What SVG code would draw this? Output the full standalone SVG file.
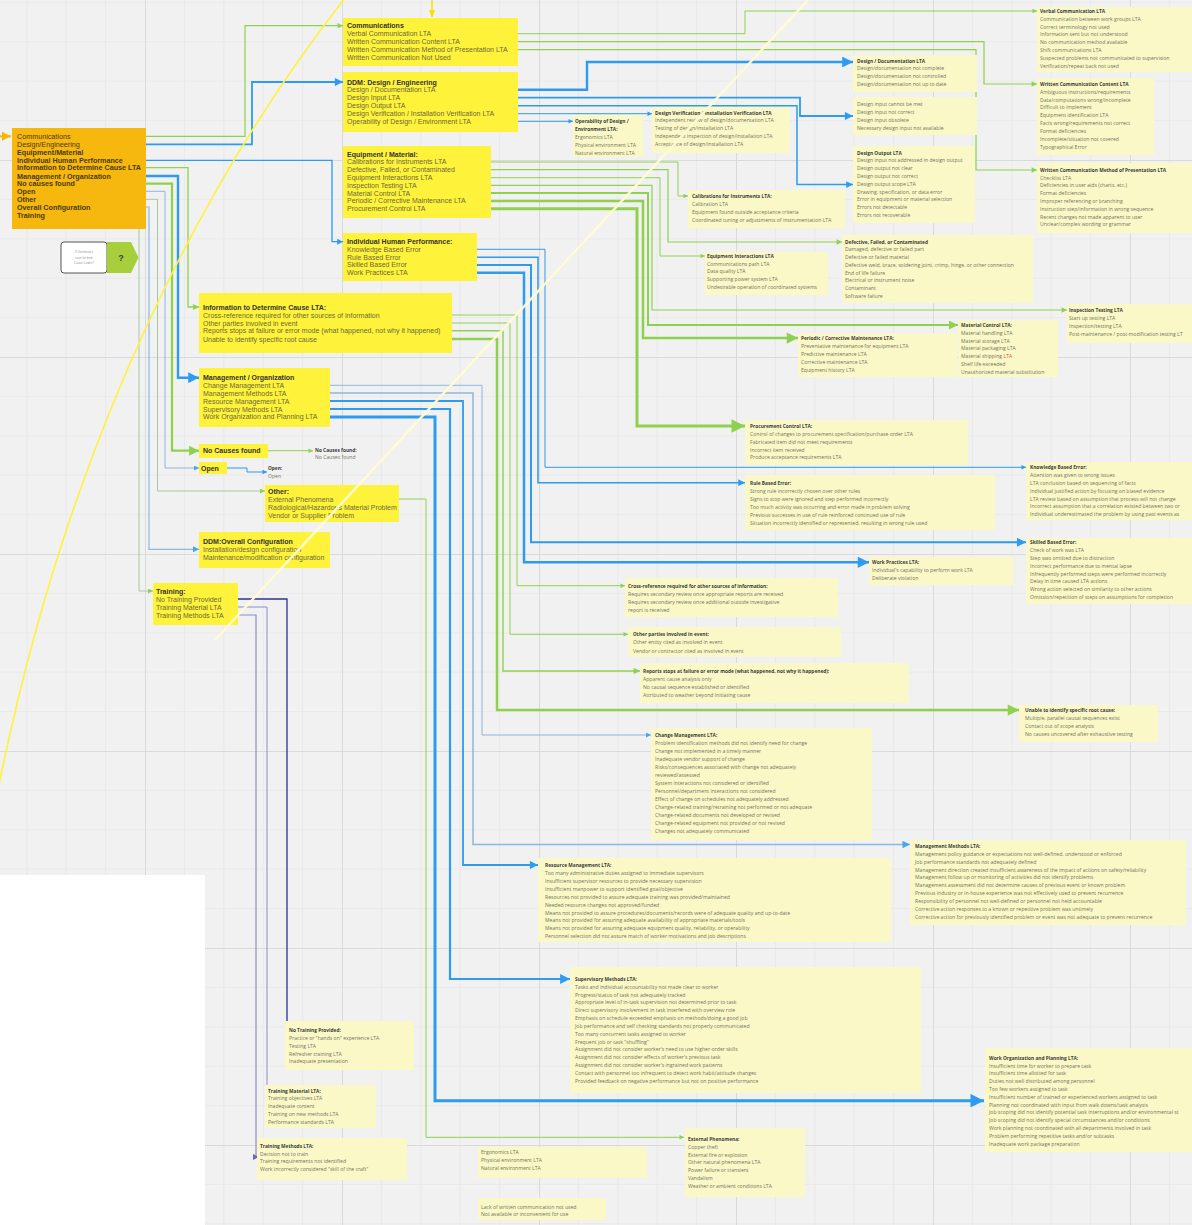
<svg xmlns="http://www.w3.org/2000/svg" width="1192" height="1225" viewBox="0 0 1192 1225">
<defs>
<style>
.b{fill:#fff23a}
.o{fill:#f6b80f}
.p{fill:#faf8c6}
.t{font-family:"Liberation Sans",Arial,sans-serif;font-size:7px;fill:#6a6a3a}
.tb{font-weight:bold;fill:#333}
.mt{font-family:"Liberation Sans",Arial,sans-serif;font-size:7.2px;fill:#4a3a10}
.mb{font-weight:bold}
.s{font-family:"Open Sans","Liberation Sans",sans-serif;font-size:5.1px;fill:#747464}
.sb{font-weight:bold;font-size:4.8px;fill:#3c3c3c}
.c path{fill:none;stroke-linejoin:miter}
.g{stroke:#8fd14f}
.bl{stroke:#2d9bf0}
.lb{stroke:#8ab8e0}
.gr{stroke:#a8c8a0}
.n{stroke:#2e3192}
.n2{stroke:#8c8ccc}
</style>
<pattern id="grid" x="145" y="160" width="197" height="197" patternUnits="userSpaceOnUse">
<rect width="197" height="197" fill="#f1f1f1"/>
<path d="M39.4 0V197M78.8 0V197M118.2 0V197M157.6 0V197M0 39.4H197M0 78.8H197M0 118.2H197M0 157.6H197" stroke="#e7e7e7" stroke-width="0.8" fill="none"/>
<path d="M0.5 0V197M0 0.5H197" stroke="#dadada" stroke-width="1" fill="none"/>
</pattern>
<marker id="mG" viewBox="0 0 10 10" refX="10" refY="5" markerWidth="5.5" markerHeight="4.5" orient="auto" markerUnits="strokeWidth"><path d="M0 0L10 5L0 10z" fill="#8fd14f"/></marker>
<marker id="mB" viewBox="0 0 10 10" refX="10" refY="5" markerWidth="5.5" markerHeight="4.5" orient="auto" markerUnits="strokeWidth"><path d="M0 0L10 5L0 10z" fill="#2d9bf0"/></marker>
<marker id="mLB" viewBox="0 0 10 10" refX="10" refY="5" markerWidth="6" markerHeight="5" orient="auto" markerUnits="strokeWidth"><path d="M0 0L10 5L0 10z" fill="#4aa6ea"/></marker>
<marker id="mGR" viewBox="0 0 10 10" refX="10" refY="5" markerWidth="6" markerHeight="5" orient="auto" markerUnits="strokeWidth"><path d="M0 0L10 5L0 10z" fill="#8fd14f"/></marker>
<marker id="mN" viewBox="0 0 10 10" refX="10" refY="5" markerWidth="5.5" markerHeight="4.5" orient="auto" markerUnits="strokeWidth"><path d="M0 0L10 5L0 10z" fill="#2e3192"/></marker>
<marker id="mN2" viewBox="0 0 10 10" refX="10" refY="5" markerWidth="6" markerHeight="5" orient="auto" markerUnits="strokeWidth"><path d="M0 0L10 5L0 10z" fill="#6a6ab8"/></marker>
<marker id="mY" viewBox="0 0 10 10" refX="10" refY="5" markerWidth="5" markerHeight="4.5" orient="auto" markerUnits="strokeWidth"><path d="M0 0L10 5L0 10z" fill="#f2e200"/></marker>
<marker id="mO" viewBox="0 0 10 10" refX="10" refY="5" markerWidth="5" markerHeight="4.5" orient="auto" markerUnits="strokeWidth"><path d="M0 0L10 5L0 10z" fill="#f5b800"/></marker>
</defs>

<rect width="1192" height="1225" fill="url(#grid)"/>
<rect x="0" y="875" width="205" height="350" fill="#ffffff"/>

<g id="connectors" class="c">
<path class="g" stroke-width="1.2" marker-end="url(#mG)" d="M76 136.3H245V25.7H343"/>
<path class="bl" stroke-width="1.8" marker-end="url(#mB)" d="M86 144.3H252V82H343"/>
<path class="bl" stroke-width="1.3" marker-end="url(#mB)" d="M122 160.3H332V241.7H343"/>
<path class="g" stroke-width="1.3" marker-end="url(#mG)" d="M141 167.7H188V307H199"/>
<path class="bl" stroke-width="2.4" marker-end="url(#mB)" d="M111 176H178V377.7H199"/>
<path class="g" stroke-width="2.2" marker-end="url(#mG)" d="M76 183.7H172V450.7H199"/>
<path class="lb" stroke-width="1" marker-end="url(#mLB)" d="M38 191.3H165V468H199"/>
<path class="gr" stroke-width="1" marker-end="url(#mGR)" d="M38 199.3H157.5V491H265"/>
<path class="lb" stroke-width="1.2" marker-end="url(#mLB)" d="M90 207H149V549.3H199"/>
<path class="gr" stroke-width="1" marker-end="url(#mGR)" d="M139 229V591H153"/>

<path class="g" stroke-width="1" marker-end="url(#mG)" d="M432 33.7H745V11H1037"/>
<path class="g" stroke-width="1.2" marker-end="url(#mG)" d="M460 41.7H984V84H1037"/>
<path class="g" stroke-width="1.2" marker-end="url(#mG)" d="M509 49.7H976V170H1037"/>

<path class="bl" stroke-width="2.4" marker-end="url(#mB)" d="M437 89.7H587V62H853"/>
<path class="bl" stroke-width="1.8" marker-end="url(#mB)" d="M403 97.7H800V116H853"/>
<path class="bl" stroke-width="1.5" marker-end="url(#mB)" d="M408 105.7H797V184.5H853"/>
<path class="bl" stroke-width="1" marker-end="url(#mB)" d="M498 113.7H652"/>
<path class="bl" stroke-width="1" marker-end="url(#mB)" d="M478 121.3H573"/>

<path class="g" stroke-width="1" marker-end="url(#mG)" d="M449 162H678V196H688"/>
<path class="g" stroke-width="1.2" marker-end="url(#mG)" d="M458 169.7H668V242H842"/>
<path class="g" stroke-width="1" marker-end="url(#mG)" d="M436 177.7H660V256H705"/>
<path class="g" stroke-width="1.2" marker-end="url(#mG)" d="M423 185.3H652V310H1067"/>
<path class="g" stroke-width="2" marker-end="url(#mG)" d="M414 193H648V325H958"/>
<path class="g" stroke-width="2.5" marker-end="url(#mG)" d="M469 201H643V338H798"/>
<path class="g" stroke-width="3" marker-end="url(#mG)" d="M431 208.7H637V426H745"/>

<path class="bl" stroke-width="1" marker-end="url(#mB)" d="M423 249.3H545V467.3H1026"/>
<path class="bl" stroke-width="1.5" marker-end="url(#mB)" d="M401 257.3H538V482.7H745"/>
<path class="bl" stroke-width="2" marker-end="url(#mB)" d="M408 265H531V542.3H1026"/>
<path class="bl" stroke-width="2.5" marker-end="url(#mB)" d="M409 272.7H524V562.3H869"/>

<path class="g" stroke-width="1" marker-end="url(#mG)" d="M383 315H517V585.7H625"/>
<path class="g" stroke-width="1" marker-end="url(#mG)" d="M299 323H510V634.3H628"/>
<path class="g" stroke-width="1.4" marker-end="url(#mG)" d="M443 330.7H503V671H640"/>
<path class="g" stroke-width="2.5" marker-end="url(#mG)" d="M319 339H497V710H1019"/>

<path class="lb" stroke-width="1" marker-end="url(#mLB)" d="M288 385.3H482V735H651"/>
<path class="lb" stroke-width="1.5" marker-end="url(#mLB)" d="M288 393H473V844.5H910"/>
<path class="bl" stroke-width="1.8" marker-end="url(#mB)" d="M291 401H463V865H538"/>
<path class="bl" stroke-width="2.2" marker-end="url(#mB)" d="M285 409H450V979H570"/>
<path class="bl" stroke-width="3" marker-end="url(#mB)" d="M321 417H435V1100.7H984"/>

<path class="g" stroke-width="1" marker-end="url(#mG)" d="M337 499H426V1137.3H684"/>
<path class="g" stroke-width="1" marker-end="url(#mG)" d="M268 450.7H313"/>
<path class="bl" stroke-width="1" marker-end="url(#mB)" d="M227 468H247V472H267"/>

<path class="n" stroke-width="1.3" marker-end="url(#mN)" d="M225 599H287V1030H291"/>
<path class="n2" stroke-width="1" marker-end="url(#mN2)" d="M224 607H267V1099H271"/>
<path class="n2" stroke-width="1.2" marker-end="url(#mN2)" d="M228 615H256V1157H259"/>

<path stroke="#f2e200" stroke-width="1.5" marker-end="url(#mY)" d="M432 0V17"/>
<path stroke="#f5b800" stroke-width="2" marker-end="url(#mO)" d="M0 136.3H11"/>
</g>

<g id="n-main">
<rect class="o" x="12" y="128" width="134" height="101"/>
<text class="mt" x="17" y="138.8">Communications</text>
<text class="mt" x="17" y="146.8">Design/Engineering</text>
<text class="mt mb" x="17" y="154.8">Equipment/Material</text>
<text class="mt mb" x="17" y="162.8">Individual Human Performance</text>
<text class="mt mb" x="17" y="170.2">Information to Determine Cause LTA</text>
<text class="mt mb" x="17" y="178.5">Management / Organization</text>
<text class="mt mb" x="17" y="186.2">No causes found</text>
<text class="mt mb" x="17" y="193.8">Open</text>
<text class="mt mb" x="17" y="201.8">Other</text>
<text class="mt mb" x="17" y="209.5">Overall Configuration</text>
<text class="mt mb" x="17" y="217.5">Training</text>
</g>

<g id="n-question">
<rect x="61" y="242" width="46" height="31" rx="3" fill="#ffffff" stroke="#555" stroke-width="1"/>
<text font-family="'Liberation Sans',Arial,sans-serif" font-size="3" fill="#999" text-anchor="middle"><tspan x="84" y="253">If Overhead a</tspan><tspan x="84" y="258.5">case for both</tspan><tspan x="84" y="264">Cause Codes?</tspan></text>
<polygon points="107,242 131,242 138.5,257.5 131,273 107,273" fill="#a6cf3b"/>
<text x="121" y="261" font-family="'Liberation Sans',Arial,sans-serif" font-size="9" font-weight="bold" fill="#3a3a3a" text-anchor="middle">?</text>
</g>

<g id="n-comm">
<rect class="b" x="343" y="18" width="175" height="48"/>
<text class="t" x="347" y="28.2"><tspan class="tb">Communications</tspan><tspan x="347" dy="7.9">Verbal Communication LTA</tspan><tspan x="347" dy="7.9">Written Communication Content LTA</tspan><tspan x="347" dy="7.9">Written Communication Method of Presentation LTA</tspan><tspan x="347" dy="7.9">Written Communication Not Used</tspan></text>
</g>
<g id="n-ddm">
<rect class="b" x="343" y="72" width="175" height="60"/>
<text class="t" x="347" y="84.5"><tspan class="tb">DDM: Design / Engineering</tspan><tspan x="347" dy="7.87">Design / Documentation LTA</tspan><tspan x="347" dy="7.87">Design Input LTA</tspan><tspan x="347" dy="7.87">Design Output LTA</tspan><tspan x="347" dy="7.87">Design Verification / Installation Verification LTA</tspan><tspan x="347" dy="7.87">Operability of Design / Environment LTA</tspan></text>
</g>
<g id="n-equip">
<rect class="b" x="343" y="146" width="148" height="72"/>
<text class="t" x="347" y="156.5"><tspan class="tb">Equipment / Material:</tspan><tspan x="347" dy="7.82">Calibrations for Instruments LTA</tspan><tspan x="347" dy="7.82">Defective, Failed, or Contaminated</tspan><tspan x="347" dy="7.82">Equipment Interactions LTA</tspan><tspan x="347" dy="7.82">Inspection Testing LTA</tspan><tspan x="347" dy="7.82">Material Control LTA</tspan><tspan x="347" dy="7.82">Periodic / Corrective Maintenance LTA</tspan><tspan x="347" dy="7.82">Procurement Control LTA</tspan></text>
</g>
<g id="n-ihp">
<rect class="b" x="343" y="233" width="134" height="48"/>
<text class="t" x="347" y="244.2"><tspan class="tb">Individual Human Performance:</tspan><tspan x="347" dy="7.75">Knowledge Based Error</tspan><tspan x="347" dy="7.75">Rule Based Error</tspan><tspan x="347" dy="7.75">Skilled Based Error</tspan><tspan x="347" dy="7.75">Work Practices LTA</tspan></text>
</g>
<g id="n-info">
<rect class="b" x="199" y="293" width="253" height="60"/>
<text class="t" x="203" y="309.5"><tspan class="tb">Information to Determine Cause LTA:</tspan><tspan x="203" dy="8">Cross-reference required for other sources of information</tspan><tspan x="203" dy="8">Other parties involved in event</tspan><tspan x="203" dy="7.8">Reports stops at failure or error mode (what happened, not why it happened)</tspan><tspan x="203" dy="8.2">Unable to identify specific root cause</tspan></text>
</g>
<g id="n-mgmt">
<rect class="b" x="199" y="368" width="131" height="59"/>
<text class="t" x="203" y="380.2"><tspan class="tb">Management / Organization</tspan><tspan x="203" dy="7.85">Change Management LTA</tspan><tspan x="203" dy="7.85">Management Methods LTA</tspan><tspan x="203" dy="7.85">Resource Management LTA</tspan><tspan x="203" dy="7.85">Supervisory Methods LTA</tspan><tspan x="203" dy="7.85">Work Organization and Planning LTA</tspan></text>
</g>
<g id="n-nocause">
<rect class="b" x="199" y="444" width="69" height="14"/>
<text class="t tb" x="203" y="453.2">No Causes found</text>
</g>
<g id="n-open">
<rect class="b" x="199" y="462" width="28" height="12"/>
<text class="t tb" x="201" y="470.5">Open</text>
</g>
<g id="n-other">
<rect class="b" x="265" y="485" width="134" height="37"/>
<text class="t" x="268" y="493.5"><tspan class="tb">Other:</tspan><tspan x="268" dy="8">External Phenomena</tspan><tspan x="268" dy="8">Radiological/Hazardous Material Problem</tspan><tspan x="268" dy="8">Vendor or Supplier Problem</tspan></text>
</g>
<g id="n-ddmoc">
<rect class="b" x="199" y="532" width="131" height="36"/>
<text class="t" x="203" y="544.2"><tspan class="tb">DDM:Overall Configuration</tspan><tspan x="203" dy="7.8">Installation/design configuration</tspan><tspan x="203" dy="7.8">Maintenance/modification configuration</tspan></text>
</g>
<g id="n-train">
<rect class="b" x="153" y="583" width="85" height="42"/>
<text class="t" x="156" y="593.5"><tspan class="tb">Training:</tspan><tspan x="156" dy="8">No Training Provided</tspan><tspan x="156" dy="8">Training Material LTA</tspan><tspan x="156" dy="8">Training Methods LTA</tspan></text>
</g>

<g id="p-verbal">
<rect class="p" x="1037" y="7" width="155" height="65"/>
<text class="s" x="1040" y="12.8"><tspan class="sb">Verbal Communication LTA</tspan><tspan x="1040" dy="7.85">Communication between work groups LTA</tspan><tspan x="1040" dy="7.85">Correct terminology not used</tspan><tspan x="1040" dy="7.85">Information sent but not understood</tspan><tspan x="1040" dy="7.85">No communication method available</tspan><tspan x="1040" dy="7.85">Shift communications LTA</tspan><tspan x="1040" dy="7.85">Suspected problems not communicated to supervision</tspan><tspan x="1040" dy="7.85">Verification/repeat back not used</tspan></text>
</g>
<g id="p-wcontent">
<rect class="p" x="1037" y="78" width="117" height="77"/>
<text class="s" x="1040" y="85.8"><tspan class="sb">Written Communication Content LTA</tspan><tspan x="1040" dy="7.85">Ambiguous instructions/requirements</tspan><tspan x="1040" dy="7.85">Data/computations wrong/incomplete</tspan><tspan x="1040" dy="7.85">Difficult to implement</tspan><tspan x="1040" dy="7.85">Equipment identification LTA</tspan><tspan x="1040" dy="7.85">Facts wrong/requirements not correct</tspan><tspan x="1040" dy="7.85">Format deficiencies</tspan><tspan x="1040" dy="7.85">Incomplete/situation not covered</tspan><tspan x="1040" dy="7.85">Typographical Error</tspan></text>
</g>
<g id="p-wmethod">
<rect class="p" x="1037" y="163" width="155" height="70"/>
<text class="s" x="1040" y="171.8"><tspan class="sb">Written Communication Method of Presentation LTA</tspan><tspan x="1040" dy="7.8">Checklist LTA</tspan><tspan x="1040" dy="7.8">Deficiencies in user aids (charts, etc.)</tspan><tspan x="1040" dy="7.8">Format deficiencies</tspan><tspan x="1040" dy="7.8">Improper referencing or branching</tspan><tspan x="1040" dy="7.8">Instruction step/information in wrong sequence</tspan><tspan x="1040" dy="7.8">Recent changes not made apparent to user</tspan><tspan x="1040" dy="7.8">Unclear/complex wording or grammar</tspan></text>
</g>
<g id="p-desdoc">
<rect class="p" x="853" y="55" width="124" height="37"/>
<text class="s" x="857" y="62.5"><tspan class="sb">Design / Documentation LTA</tspan><tspan x="857" dy="7.7">Design/documentation not complete</tspan><tspan x="857" dy="7.7">Design/documentation not controlled</tspan><tspan x="857" dy="7.7">Design/documentation not up to date</tspan></text>
</g>
<g id="p-desinput">
<rect class="p" x="853" y="97" width="124" height="38"/>
<text class="s" x="857" y="105.8"><tspan>Design input cannot be met</tspan><tspan x="857" dy="7.9">Design input not correct</tspan><tspan x="857" dy="7.9">Design input obsolete</tspan><tspan x="857" dy="7.9">Necessary design input not available</tspan></text>
</g>
<g id="p-desout">
<rect class="p" x="853" y="146" width="122" height="77"/>
<text class="s" x="857" y="154.5"><tspan class="sb">Design Output LTA</tspan><tspan x="857" dy="7.8">Design input not addressed in design output</tspan><tspan x="857" dy="7.8">Design output not clear</tspan><tspan x="857" dy="7.8">Design output not correct</tspan><tspan x="857" dy="7.8">Design output scope LTA</tspan><tspan x="857" dy="7.8">Drawing, specification, or data error</tspan><tspan x="857" dy="7.8">Error in equipment or material selection</tspan><tspan x="857" dy="7.8">Errors not detectable</tspan><tspan x="857" dy="7.8">Errors not recoverable</tspan></text>
</g>
<g id="p-desver">
<rect class="p" x="652" y="107" width="138" height="46"/>
<text class="s" x="655" y="114.5"><tspan class="sb">Design Verification / Installation Verification LTA</tspan><tspan x="655" dy="7.9">Independent review of design/documentation LTA</tspan><tspan x="655" dy="7.9">Testing of design/installation LTA</tspan><tspan x="655" dy="7.9">Independent inspection of design/installation LTA</tspan><tspan x="655" dy="7.9">Acceptance of design/installation LTA</tspan></text>
</g>
<g id="p-oper">
<rect class="p" x="573" y="115" width="70" height="42"/>
<text class="s" x="575" y="123.1"><tspan class="sb">Operability of Design /</tspan><tspan class="sb" x="575" dy="7.9">Environment LTA:</tspan><tspan x="575" dy="7.9">Ergonomics LTA</tspan><tspan x="575" dy="7.9">Physical environment LTA</tspan><tspan x="575" dy="7.9">Natural environment LTA</tspan></text>
</g>
<g id="p-calib">
<rect class="p" x="688" y="190" width="157" height="38"/>
<text class="s" x="692" y="197.8"><tspan class="sb">Calibrations for Instruments LTA:</tspan><tspan x="692" dy="8.1">Calibration LTA</tspan><tspan x="692" dy="8.1">Equipment found outside acceptance criteria</tspan><tspan x="692" dy="8.1">Coordinated tuning or adjustments of instrumentation LTA</tspan></text>
</g>
<g id="p-defect">
<rect class="p" x="842" y="235" width="191" height="68"/>
<text class="s" x="845" y="243.5"><tspan class="sb">Defective, Failed, or Contaminated</tspan><tspan x="845" dy="7.75">Damaged, defective or failed part</tspan><tspan x="845" dy="7.75">Defective or failed material</tspan><tspan x="845" dy="7.75">Defective weld, braze, soldering joint, crimp, hinge, or other connection</tspan><tspan x="845" dy="7.75">End of life failure</tspan><tspan x="845" dy="7.75">Electrical or instrument noise</tspan><tspan x="845" dy="7.75">Contaminant</tspan><tspan x="845" dy="7.75">Software failure</tspan></text>
</g>
<g id="p-eqint">
<rect class="p" x="705" y="252" width="123" height="43"/>
<text class="s" x="707" y="257.8"><tspan class="sb">Equipment Interactions LTA</tspan><tspan x="707" dy="7.8">Communications path LTA</tspan><tspan x="707" dy="7.8">Data quality LTA</tspan><tspan x="707" dy="7.8">Supporting power system LTA</tspan><tspan x="707" dy="7.8">Undesirable operation of coordinated systems</tspan></text>
</g>
<g id="p-insp">
<rect class="p" x="1067" y="304" width="125" height="39"/>
<text class="s" x="1069" y="311.8"><tspan class="sb">Inspection Testing LTA</tspan><tspan x="1069" dy="7.9">Start up testing LTA</tspan><tspan x="1069" dy="7.9">Inspection/testing LTA</tspan><tspan x="1069" dy="7.9">Post-maintenance / post-modification testing LT</tspan></text>
</g>
<g id="p-matl">
<rect class="p" x="958" y="320" width="100" height="57"/>
<text class="s" x="961" y="326.8"><tspan class="sb">Material Control LTA:</tspan><tspan x="961" dy="7.85">Material handling LTA</tspan><tspan x="961" dy="7.85">Material storage LTA</tspan><tspan x="961" dy="7.85">Material packaging LTA</tspan><tspan x="961" dy="7.85">Material shipping </tspan><tspan fill="#e05040">LTA</tspan><tspan x="961" dy="7.85">Shelf life exceeded</tspan><tspan x="961" dy="7.85">Unauthorized material substitution</tspan></text>
</g>
<g id="p-periodic">
<rect class="p" x="798" y="333" width="159" height="44"/>
<text class="s" x="801" y="340.1"><tspan class="sb">Periodic / Corrective Maintenance LTA:</tspan><tspan x="801" dy="7.85">Preventative maintenance for equipment LTA</tspan><tspan x="801" dy="7.85">Predictive maintenance LTA</tspan><tspan x="801" dy="7.85">Corrective maintenance LTA</tspan><tspan x="801" dy="7.85">Equipment history LTA</tspan></text>
</g>
<g id="p-procure">
<rect class="p" x="745" y="420" width="223" height="45"/>
<text class="s" x="750" y="427.8"><tspan class="sb">Procurement Control LTA:</tspan><tspan x="750" dy="7.9">Control of changes to procurement specification/purchase order LTA</tspan><tspan x="750" dy="7.9">Fabricated item did not meet requirements</tspan><tspan x="750" dy="7.9">Incorrect item received</tspan><tspan x="750" dy="7.9">Produce acceptance requirements LTA</tspan></text>
</g>
<g id="p-know">
<rect class="p" x="1026" y="462" width="166" height="58"/>
<text class="s" x="1030" y="469.1"><tspan class="sb">Knowledge Based Error:</tspan><tspan x="1030" dy="7.85">Attention was given to wrong issues</tspan><tspan x="1030" dy="7.85">LTA conclusion based on sequencing of facts</tspan><tspan x="1030" dy="7.85">Individual justified action by focusing on biased evidence</tspan><tspan x="1030" dy="7.85">LTA review based on assumption that process will not change</tspan><tspan x="1030" dy="7.85">Incorrect assumption that a correlation existed between two or</tspan><tspan x="1030" dy="7.85">Individual underestimated the problem by using past events as</tspan></text>
</g>
<g id="p-rule">
<rect class="p" x="745" y="475" width="250" height="55"/>
<text class="s" x="750" y="484.5"><tspan class="sb">Rule Based Error:</tspan><tspan x="750" dy="8">Strong rule incorrectly chosen over other rules</tspan><tspan x="750" dy="8">Signs to stop were ignored and step performed incorrectly</tspan><tspan x="750" dy="8">Too much activity was occurring and error made in problem solving</tspan><tspan x="750" dy="8">Previous successes in use of rule reinforced continued use of rule</tspan><tspan x="750" dy="8">Situation incorrectly identified or represented, resulting in wrong rule used</tspan></text>
</g>
<g id="p-skill">
<rect class="p" x="1026" y="538" width="166" height="66"/>
<text class="s" x="1030" y="544.1"><tspan class="sb">Skilled Based Error:</tspan><tspan x="1030" dy="7.85">Check of work was LTA</tspan><tspan x="1030" dy="7.85">Step was omitted due to distraction</tspan><tspan x="1030" dy="7.85">Incorrect performance due to mental lapse</tspan><tspan x="1030" dy="7.85">Infrequently performed steps were performed incorrectly</tspan><tspan x="1030" dy="7.85">Delay in time caused LTA actions</tspan><tspan x="1030" dy="7.85">Wrong action selected on similarity to other actions</tspan><tspan x="1030" dy="7.85">Omission/repetition of steps on assumptions for completion</tspan></text>
</g>
<g id="p-workpr">
<rect class="p" x="869" y="557" width="144" height="28"/>
<text class="s" x="872" y="564.1"><tspan class="sb">Work Practices LTA:</tspan><tspan x="872" dy="8">Individual's capability to perform work LTA</tspan><tspan x="872" dy="8">Deliberate violation</tspan></text>
</g>
<g id="p-xref">
<rect class="p" x="625" y="578" width="213" height="39"/>
<text class="s" x="628" y="587.5"><tspan class="sb">Cross-reference required for other sources of information:</tspan><tspan x="628" dy="8">Requires secondary review once appropriate reports are received</tspan><tspan x="628" dy="8">Requires secondary review once additional outside investigative</tspan><tspan x="628" dy="8">report is received</tspan></text>
</g>
<g id="p-parties">
<rect class="p" x="628" y="627" width="213" height="30"/>
<text class="s" x="633" y="636.1"><tspan class="sb">Other parties involved in event:</tspan><tspan x="633" dy="8.2">Other entity cited as involved in event</tspan><tspan x="633" dy="8.2">Vendor or contractor cited as involved in event</tspan></text>
</g>
<g id="p-reports">
<rect class="p" x="640" y="663" width="269" height="40"/>
<text class="s" x="643" y="672.8"><tspan class="sb">Reports stops at failure or error mode (what happened, not why it happened):</tspan><tspan x="643" dy="8.1">Apparent cause analysis only</tspan><tspan x="643" dy="8.1">No causal sequence established or identified</tspan><tspan x="643" dy="8.1">Attributed to weather beyond initiating cause</tspan></text>
</g>
<g id="p-unable">
<rect class="p" x="1019" y="705" width="139" height="37"/>
<text class="s" x="1025" y="711.8"><tspan class="sb">Unable to identify specific root cause:</tspan><tspan x="1025" dy="7.9">Multiple, parallel causal sequences exist</tspan><tspan x="1025" dy="7.9">Contact out of scope analysis</tspan><tspan x="1025" dy="7.9">No causes uncovered after exhaustive testing</tspan></text>
</g>
<g id="p-change">
<rect class="p" x="651" y="728" width="221" height="112"/>
<text class="s" x="655" y="737"><tspan class="sb">Change Management LTA:</tspan><tspan x="655" dy="8">Problem identification methods did not identify need for change</tspan><tspan x="655" dy="8">Change not implemented in a timely manner</tspan><tspan x="655" dy="8">Inadequate vendor support of change</tspan><tspan x="655" dy="8">Risks/consequences associated with change not adequately</tspan><tspan x="655" dy="8">reviewed/assessed</tspan><tspan x="655" dy="8">System interactions not considered or identified</tspan><tspan x="655" dy="8">Personnel/department interactions not considered</tspan><tspan x="655" dy="8">Effect of change on schedules not adequately addressed</tspan><tspan x="655" dy="8">Change-related training/retraining not performed or not adequate</tspan><tspan x="655" dy="8">Change-related documents not developed or revised</tspan><tspan x="655" dy="8">Change-related equipment not provided or not revised</tspan><tspan x="655" dy="8">Changes not adequately communicated</tspan></text>
</g>
<g id="p-mgmtm">
<rect class="p" x="910" y="840" width="276" height="85"/>
<text class="s" x="915" y="847.8"><tspan class="sb">Management Methods LTA:</tspan><tspan x="915" dy="7.9">Management policy guidance or expectations not well-defined, understood or enforced</tspan><tspan x="915" dy="7.9">Job performance standards not adequately defined</tspan><tspan x="915" dy="7.9">Management direction created insufficient awareness of the impact of actions on safety/reliability</tspan><tspan x="915" dy="7.9">Management follow up or monitoring of activities did not identify problems</tspan><tspan x="915" dy="7.9">Management assessment did not determine causes of previous event or known problem</tspan><tspan x="915" dy="7.9">Previous industry or in-house experience was not effectively used to prevent recurrence</tspan><tspan x="915" dy="7.9">Responsibility of personnel not well-defined or personnel not held accountable</tspan><tspan x="915" dy="7.9">Corrective action responses to a known or repetitive problem was untimely</tspan><tspan x="915" dy="7.9">Corrective action for previously identified problem or event was not adequate to prevent recurrence</tspan></text>
</g>
<g id="p-resource">
<rect class="p" x="538" y="858" width="353" height="84"/>
<text class="s" x="545" y="866.8"><tspan class="sb">Resource Management LTA:</tspan><tspan x="545" dy="7.95">Too many administrative duties assigned to immediate supervisors</tspan><tspan x="545" dy="7.95">Insufficient supervisor resources to provide necessary supervision</tspan><tspan x="545" dy="7.95">Insufficient manpower to support identified goal/objective</tspan><tspan x="545" dy="7.95">Resources not provided to assure adequate training was provided/maintained</tspan><tspan x="545" dy="7.95">Needed resource changes not approved/funded</tspan><tspan x="545" dy="7.95">Means not provided to assure procedures/documents/records were of adequate quality and up-to-date</tspan><tspan x="545" dy="7.95">Means not provided for assuring adequate availability of appropriate materials/tools</tspan><tspan x="545" dy="7.95">Means not provided for assuring adequate equipment quality, reliability, or operability</tspan><tspan x="545" dy="7.95">Personnel selection did not assure match of worker motivations and job descriptions</tspan></text>
</g>
<g id="p-super">
<rect class="p" x="570" y="967" width="351" height="126"/>
<text class="s" x="575" y="980.8"><tspan class="sb">Supervisory Methods LTA:</tspan><tspan x="575" dy="7.85">Tasks and individual accountability not made clear to worker</tspan><tspan x="575" dy="7.85">Progress/status of task not adequately tracked</tspan><tspan x="575" dy="7.85">Appropriate level of in-task supervision not determined prior to task</tspan><tspan x="575" dy="7.85">Direct supervisory involvement in task interfered with overview role</tspan><tspan x="575" dy="7.85">Emphasis on schedule exceeded emphasis on methods/doing a good job</tspan><tspan x="575" dy="7.85">Job performance and self checking standards not properly communicated</tspan><tspan x="575" dy="7.85">Too many concurrent tasks assigned to worker</tspan><tspan x="575" dy="7.85">Frequent job or task &quot;shuffling&quot;</tspan><tspan x="575" dy="7.85">Assignment did not consider worker's need to use higher-order skills</tspan><tspan x="575" dy="7.85">Assignment did not consider effects of worker's previous task</tspan><tspan x="575" dy="7.85">Assignment did not consider worker's ingrained work patterns</tspan><tspan x="575" dy="7.85">Contact with personnel too infrequent to detect work habit/attitude changes</tspan><tspan x="575" dy="7.85">Provided feedback on negative performance but not on positive performance</tspan></text>
</g>
<g id="p-workorg">
<rect class="p" x="985" y="1048" width="207" height="104"/>
<text class="s" x="989" y="1059.8"><tspan class="sb">Work Organization and Planning LTA:</tspan><tspan x="989" dy="7.8">Insufficient time for worker to prepare task</tspan><tspan x="989" dy="7.8">Insufficient time allotted for task</tspan><tspan x="989" dy="7.8">Duties not well distributed among personnel</tspan><tspan x="989" dy="7.8">Too few workers assigned to task</tspan><tspan x="989" dy="7.8">Insufficient number of trained or experienced workers assigned to task</tspan><tspan x="989" dy="7.8">Planning not coordinated with input from walk downs/task analysis</tspan><tspan x="989" dy="7.8">Job scoping did not identify potential task interruptions and/or environmental st</tspan><tspan x="989" dy="7.8">Job scoping did not identify special circumstances and/or conditions</tspan><tspan x="989" dy="7.8">Work planning not coordinated with all departments involved in task</tspan><tspan x="989" dy="7.8">Problem performing repetitive tasks and/or subtasks</tspan><tspan x="989" dy="7.8">Inadequate work package preparation</tspan></text>
</g>
<g id="p-extern">
<rect class="p" x="685" y="1128" width="120" height="69"/>
<text class="s" x="688" y="1141.1"><tspan class="sb">External Phenomena:</tspan><tspan x="688" dy="7.75">Copper theft</tspan><tspan x="688" dy="7.75">External fire or explosion</tspan><tspan x="688" dy="7.75">Other natural phenomena LTA</tspan><tspan x="688" dy="7.75">Power failure or transient</tspan><tspan x="688" dy="7.75">Vandalism</tspan><tspan x="688" dy="7.75">Weather or ambient conditions LTA</tspan></text>
</g>
<g id="p-ergo">
<rect class="p" x="478" y="1147" width="169" height="31"/>
<text class="s" x="481" y="1154.1"><tspan>Ergonomics LTA</tspan><tspan x="481" dy="7.7">Physical environment LTA</tspan><tspan x="481" dy="7.7">Natural environment LTA</tspan></text>
</g>
<g id="p-lack">
<rect class="p" x="478" y="1198" width="128" height="22"/>
<text class="s" x="481" y="1208.5"><tspan>Lack of written communication not used</tspan><tspan x="481" dy="7.7">Not available or inconvenient for use</tspan></text>
</g>
<g id="p-notrain">
<rect class="p" x="285" y="1021" width="129" height="49"/>
<text class="s" x="289" y="1031.8"><tspan class="sb">No Training Provided:</tspan><tspan x="289" dy="7.9">Practice or &quot;hands on&quot; experience LTA</tspan><tspan x="289" dy="7.9">Testing LTA</tspan><tspan x="289" dy="7.9">Refresher training LTA</tspan><tspan x="289" dy="7.9">Inadequate presentation</tspan></text>
</g>
<g id="p-trmat">
<rect class="p" x="265" y="1085" width="111" height="43"/>
<text class="s" x="268" y="1092.5"><tspan class="sb">Training Material LTA:</tspan><tspan x="268" dy="7.85">Training objectives LTA</tspan><tspan x="268" dy="7.85">Inadequate content</tspan><tspan x="268" dy="7.85">Training on new methods LTA</tspan><tspan x="268" dy="7.85">Performance standards LTA</tspan></text>
</g>
<g id="p-trmeth">
<rect class="p" x="257" y="1138" width="150" height="42"/>
<text class="s" x="260" y="1147.8"><tspan class="sb">Training Methods LTA:</tspan><tspan x="260" dy="7.7">Decision not to train</tspan><tspan x="260" dy="7.7">Training requirements not identified</tspan><tspan x="260" dy="7.7">Work incorrectly considered &quot;skill of the craft&quot;</tspan></text>
</g>
<g id="p-nocause">
<text class="s" x="315" y="451.5"><tspan class="sb">No Causes found:</tspan><tspan x="315" dy="7.8">No Causes found</tspan></text>
</g>
<g id="p-open">
<text class="s" x="268" y="470.3"><tspan class="sb">Open:</tspan><tspan x="268" dy="7.6">Open</tspan></text>
</g>

<g id="decor" fill="none">
<path d="M345 -2C210 170 70 430 -2 790" stroke="#fff23a" stroke-width="1.6"/>
<path d="M808 0L215 640" stroke="#fffbd2" stroke-width="2.5" opacity="0.95"/>
</g>
</svg>
